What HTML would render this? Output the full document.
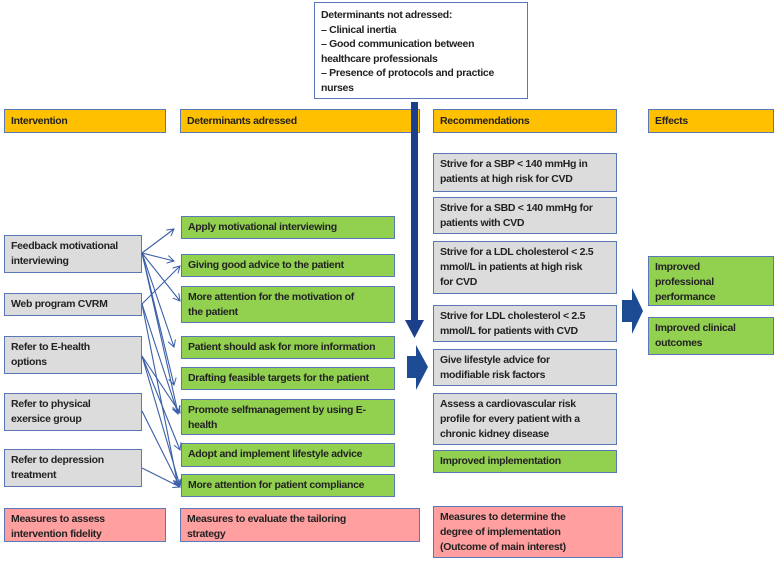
<!DOCTYPE html>
<html><head><style>
body{margin:0;width:778px;height:562px;background:#fff;position:relative;overflow:hidden;font-family:"Liberation Sans",sans-serif;}
.b{position:absolute;box-sizing:border-box;border:1.5px solid #5a77b8;font-size:10.5px;line-height:15px;color:#222;padding:3px 6px;font-weight:bold;letter-spacing:-0.3px;white-space:nowrap;overflow:hidden}
.o{background:#ffc000;padding-top:4px}
.g{background:#92d050}
.y{background:#dcdcdc}
.p{background:#ff9f9f}
.w{background:#fff}
svg{position:absolute;left:0;top:0}
</style></head><body>
<div class="b w" style="left:314px;top:2px;width:214px;height:97px;padding-top:5px;line-height:14.5px">Determinants not adressed:<br>– Clinical inertia<br>– Good communication between<br>healthcare professionals<br>– Presence of protocols and practice<br>nurses</div>

<div class="b o" style="left:4px;top:109px;width:162px;height:24px">Intervention</div>
<div class="b o" style="left:180px;top:109px;width:240px;height:24px">Determinants adressed</div>
<div class="b o" style="left:433px;top:109px;width:184px;height:24px">Recommendations</div>
<div class="b o" style="left:648px;top:109px;width:126px;height:24px">Effects</div>

<div class="b y" style="left:4px;top:235px;width:138px;height:38px">Feedback motivational<br>interviewing</div>
<div class="b y" style="left:4px;top:293px;width:138px;height:23px">Web program CVRM</div>
<div class="b y" style="left:4px;top:336px;width:138px;height:38px">Refer to E-health<br>options</div>
<div class="b y" style="left:4px;top:393px;width:138px;height:38px">Refer to physical<br>exersice group</div>
<div class="b y" style="left:4px;top:449px;width:138px;height:38px">Refer to depression<br>treatment</div>
<div class="b p" style="left:4px;top:508px;width:162px;height:34px">Measures to assess<br>intervention fidelity</div>

<div class="b g" style="left:181px;top:216px;width:214px;height:23px">Apply motivational interviewing</div>
<div class="b g" style="left:181px;top:254px;width:214px;height:23px">Giving good advice to the patient</div>
<div class="b g" style="left:181px;top:286px;width:214px;height:37px">More attention for the motivation of<br>the patient</div>
<div class="b g" style="left:181px;top:336px;width:214px;height:23px">Patient should ask for more information</div>
<div class="b g" style="left:181px;top:367px;width:214px;height:23px">Drafting feasible targets for the patient</div>
<div class="b g" style="left:181px;top:399px;width:214px;height:36px">Promote selfmanagement by using E-<br>health</div>
<div class="b g" style="left:181px;top:443px;width:214px;height:24px">Adopt and implement lifestyle advice</div>
<div class="b g" style="left:181px;top:474px;width:214px;height:23px">More attention for patient compliance</div>
<div class="b p" style="left:180px;top:508px;width:240px;height:34px">Measures to evaluate the tailoring<br>strategy</div>

<div class="b y" style="left:433px;top:153px;width:184px;height:39px">Strive for a SBP &lt; 140 mmHg in<br>patients at high risk for CVD</div>
<div class="b y" style="left:433px;top:197px;width:184px;height:37px">Strive for a SBD &lt; 140 mmHg for<br>patients with CVD</div>
<div class="b y" style="left:433px;top:241px;width:184px;height:53px">Strive for a LDL cholesterol &lt; 2.5<br>mmol/L in patients at high risk<br>for CVD</div>
<div class="b y" style="left:433px;top:305px;width:184px;height:37px">Strive for LDL cholesterol &lt; 2.5<br>mmol/L for patients with CVD</div>
<div class="b y" style="left:433px;top:349px;width:184px;height:37px">Give lifestyle advice for<br>modifiable risk factors</div>
<div class="b y" style="left:433px;top:393px;width:184px;height:52px">Assess a cardiovascular risk<br>profile for every patient with a<br>chronic kidney disease</div>
<div class="b g" style="left:433px;top:450px;width:184px;height:23px">Improved implementation</div>
<div class="b p" style="left:433px;top:506px;width:190px;height:52px">Measures to determine the<br>degree of implementation<br>(Outcome of main interest)</div>

<div class="b g" style="left:648px;top:256px;width:126px;height:50px">Improved<br>professional<br>performance</div>
<div class="b g" style="left:648px;top:317px;width:126px;height:38px">Improved clinical<br>outcomes</div>

<svg width="778" height="562">
<defs><marker id="a" markerWidth="8" markerHeight="8" refX="7" refY="4" orient="auto" markerUnits="userSpaceOnUse"><path d="M0,0 L7,4 L0,8" fill="none" stroke="#3a5fa8" stroke-width="1"/></marker></defs>
<g stroke="#3a5fa8" stroke-width="1.1" fill="none" marker-end="url(#a)">
<line x1="142" y1="253" x2="174" y2="229"/>
<line x1="142" y1="253" x2="174" y2="261"/>
<line x1="142" y1="253" x2="180" y2="301"/>
<line x1="142" y1="253" x2="174" y2="347"/>
<line x1="142" y1="253" x2="174" y2="385"/>
<line x1="142" y1="253" x2="178" y2="413"/>
<line x1="142" y1="304" x2="180" y2="266"/>
<line x1="142" y1="304" x2="178" y2="414"/>
<line x1="142" y1="304" x2="178" y2="486"/>
<line x1="142" y1="356" x2="180" y2="413"/>
<line x1="142" y1="356" x2="180" y2="450"/>
<line x1="142" y1="356" x2="180" y2="486"/>
<line x1="142" y1="411" x2="180" y2="487"/>
<line x1="142" y1="468" x2="180" y2="487"/>
</g>
<rect x="411" y="102" width="7" height="220" fill="#1c3f8c"/>
<polygon points="405,320 424,320 414.5,338" fill="#1c3f8c"/>
<polygon points="407,356 416,356 416,345 428,367 416,390 416,378 407,378" fill="#1c4b94"/>
<polygon points="622,300 632,300 632,288 643,311 632,334 632,322 622,322" fill="#1c4b94"/>
</svg>
</body></html>
